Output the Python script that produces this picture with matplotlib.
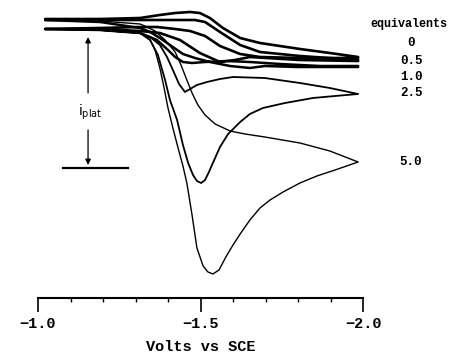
import matplotlib
matplotlib.use("Agg")
import matplotlib.pyplot as plt
from matplotlib.ticker import MultipleLocator

# potential (V vs SCE) and current (arbitrary units, cathodic negative), one closed scan per loop
e0_v = [-1.022, -1.191, -1.314, -1.375, -1.422, -1.468, -1.498, -1.529, -1.569, -1.622, -1.683, -1.806, -1.898, -1.985,
        -1.985, -1.898, -1.806, -1.683, -1.622, -1.560, -1.514, -1.468, -1.422, -1.366, -1.314, -1.191, -1.022]
e0_i = [1.0, 1.0, 1.1, 1.4, 1.6, 1.7, 1.6, 1.1, 0.1, -0.9, -1.4, -2.0, -2.4, -2.8,
        -2.9, -2.9, -2.9, -2.8, -2.5, -1.7, -0.7, -0.2, 0.0, 0.2, 0.2, 0.1, 0.0]

e05_v = [-1.022, -1.191, -1.314, -1.415, -1.483, -1.514, -1.560, -1.622, -1.683, -1.806, -1.985,
         -1.985, -1.806, -1.652, -1.606, -1.560, -1.498, -1.437, -1.375, -1.314, -1.191, -1.022]
e05_i = [0.9, 0.9, 0.9, 0.9, 0.9, 0.7, -0.3, -1.6, -2.3, -2.7, -3.1,
         -3.2, -3.1, -2.8, -3.1, -3.3, -2.4, -1.1, -0.4, -0.2, 0.0, 0.0]

e10_v = [-1.022, -1.191, -1.314, -1.366, -1.400, -1.422, -1.446, -1.474, -1.514, -1.582, -1.652, -1.745, -1.868, -1.985,
         -1.985, -1.868, -1.797, -1.698, -1.652, -1.591, -1.529, -1.483, -1.446, -1.406, -1.375, -1.345, -1.314, -1.191, -1.022]
e10_i = [0.0, -0.1, -0.4, -1.1, -2.1, -2.8, -3.3, -3.4, -3.3, -3.2, -3.3, -3.5, -3.7, -3.7,
         -3.8, -3.8, -3.8, -3.7, -3.9, -3.7, -3.3, -2.9, -2.5, -1.6, -0.9, -0.3, 0.1, 0.7, 0.9]

e25_v = [-1.022, -1.191, -1.314, -1.345, -1.375, -1.397, -1.415, -1.434, -1.452, -1.468, -1.489, -1.520, -1.560, -1.600,
         -1.698, -1.806, -1.898, -1.985,
         -1.985, -1.914, -1.846, -1.760, -1.692, -1.652, -1.622, -1.585, -1.560, -1.538, -1.526, -1.514, -1.502, -1.489,
         -1.477, -1.462, -1.446, -1.428, -1.406, -1.391, -1.369, -1.345, -1.314, -1.191, -1.022]
e25_i = [0.0, -0.1, -0.4, -0.8, -1.6, -2.8, -4.1, -5.5, -6.3, -6.0, -5.6, -5.3, -5.0, -4.8,
         -4.9, -5.4, -5.9, -6.5,
         -6.5, -6.7, -6.9, -7.4, -7.9, -8.5, -9.3, -10.5, -11.8, -13.4, -14.3, -15.1, -15.4, -15.2,
         -14.6, -13.4, -11.6, -9.1, -7.1, -5.1, -2.6, -1.1, -0.4, -0.1, 0.0]

e50_v = [-1.022, -1.191, -1.314, -1.345, -1.360, -1.375, -1.388, -1.400, -1.415, -1.431, -1.446, -1.458, -1.474, -1.489,
         -1.508, -1.523, -1.538, -1.557, -1.578, -1.600, -1.622, -1.652, -1.683, -1.714, -1.754, -1.806, -1.858, -1.914, -1.985,
         -1.898, -1.806, -1.698, -1.637, -1.591, -1.545, -1.514, -1.492, -1.474, -1.458, -1.440, -1.422, -1.391, -1.360,
         -1.329, -1.314, -1.191, -1.022]
e50_i = [0.0, -0.1, -0.4, -1.1, -2.1, -3.9, -5.9, -7.9, -9.9, -11.9, -13.7, -15.4, -18.6, -21.9,
         -23.7, -24.3, -24.5, -24.1, -22.8, -21.6, -20.5, -19.1, -17.9, -17.1, -16.3, -15.4, -14.7, -14.1, -13.3,
         -12.2, -11.4, -10.8, -10.5, -10.2, -9.5, -8.6, -7.6, -6.4, -5.1, -3.6, -2.3, -1.1, -0.2,
         0.3, 0.5, 0.8, 0.9]

equiv_labels = ["0", "0.5", "1.0", "2.5", "5.0"]
equiv_label_i = [-1.4, -3.2, -4.8, -6.4, -13.3]
tick_v = [-1.0, -1.5, -2.0]
tick_text = ["\u22121.0", "\u22121.5", "\u22122.0"]

mono = "Liberation Mono"

fig = plt.figure(figsize=(4.5, 3.63), dpi=100)
ax = fig.add_axes([38 / 450, 65 / 363, 325 / 450, 298 / 363])

loops = [(e0_v, e0_i, 1.9), (e05_v, e05_i, 1.9), (e10_v, e10_i, 1.8), (e25_v, e25_i, 1.3), (e50_v, e50_i, 1.0)]
for v, i, lw in loops:
    ax.plot(v, i, color="black", lw=lw, solid_joinstyle="round", solid_capstyle="round", clip_on=False)

ax.set_xlim(-1.0, -2.0)
ax.set_ylim(-26.9, 2.9)

for s in ["left", "right", "top"]:
    ax.spines[s].set_visible(False)
ax.spines["bottom"].set_linewidth(1.5)
ax.set_yticks([])
ax.set_xticks(tick_v)
ax.set_xticklabels(tick_text, fontfamily=mono, fontweight="bold", fontsize=11)
ax.xaxis.set_minor_locator(MultipleLocator(0.1))
ax.tick_params(axis="x", which="major", direction="out", length=10, width=1.2, pad=4)
ax.tick_params(axis="x", which="minor", direction="out", length=3, width=1.0)
ax.set_xlabel("Volts vs SCE", fontfamily=mono, fontweight="bold", fontsize=11, labelpad=6)

# right-hand labels
ax.text(-2.022, 0.5, "equivalents", fontfamily=mono, fontweight="bold", fontsize=8.5,
        ha="left", va="center", clip_on=False)
for lab, yi in zip(equiv_labels, equiv_label_i):
    ax.text(-2.148, yi, lab, fontfamily=mono, fontweight="bold", fontsize=9,
            ha="center", va="center", clip_on=False)

# i_plat marker
ax.annotate("", xy=(-1.154, -0.8), xytext=(-1.154, -6.4),
            arrowprops=dict(arrowstyle="-|>", color="black", lw=0.9, mutation_scale=8, shrinkA=0, shrinkB=0))
ax.annotate("", xy=(-1.154, -13.6), xytext=(-1.154, -10.1),
            arrowprops=dict(arrowstyle="-|>", color="black", lw=0.9, mutation_scale=8, shrinkA=0, shrinkB=0))
ax.plot([-1.077, -1.277], [-13.9, -13.9], color="black", lw=1.6)
ax.text(-1.16, -8.3, r"$\mathregular{i_{plat}}$", fontsize=10, ha="center", va="center")

fig.savefig("out.png", dpi=100)
